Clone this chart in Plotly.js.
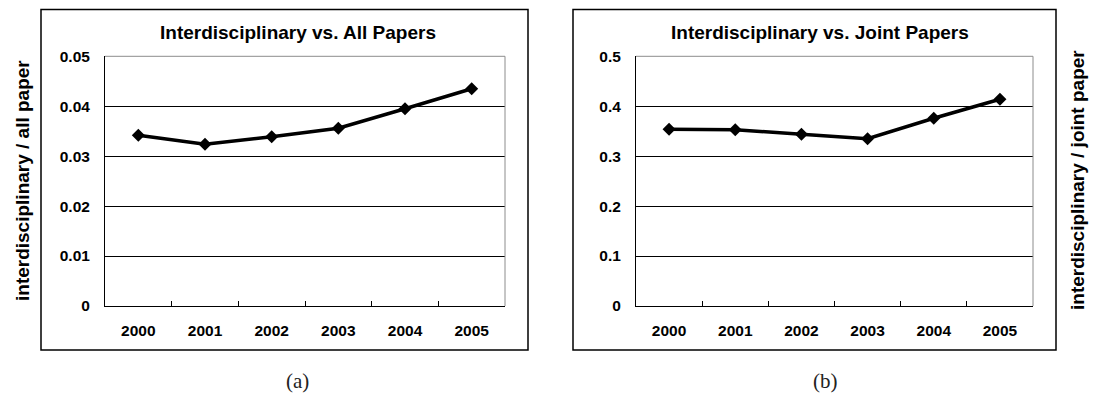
<!DOCTYPE html>
<html>
<head>
<meta charset="utf-8">
<script src="https://cdn.plot.ly/plotly-3.0.1.min.js"></script>
<style>
  html, body { margin: 0; padding: 0; background: #ffffff; }
  #chart { width: 1099px; height: 399px; }
</style>
</head>
<body>
<div id="chart"></div>
<script>
// Yearly share of interdisciplinary papers
const years = ['2000', '2001', '2002', '2003', '2004', '2005'];
const ratioAll = [0.0342, 0.0324, 0.0339, 0.0356, 0.0395, 0.0435];
const ratioJoint = [0.354, 0.353, 0.344, 0.335, 0.376, 0.414];

const titleAll = 'Interdisciplinary vs. All Papers';
const titleJoint = 'Interdisciplinary vs. Joint Papers';
const yTitleAll = 'interdisciplinary / all paper';
const yTitleJoint = 'interdisciplinary / joint paper';
const captions = ['(a)', '(b)'];

const W = 1099, H = 399;
const px = x => x / W;
const py = y => 1 - y / H;

const SANS = 'Liberation Sans, Arial, sans-serif';
const tickFont = { family: SANS, size: 15.5, weight: 'bold', color: '#000' };
const titleFont = { family: SANS, size: 19, weight: 'bold', color: '#000' };

function lineTrace(y, xa, ya) {
  return {
    type: 'scatter', mode: 'lines+markers',
    x: years, y: y, xaxis: xa, yaxis: ya,
    line: { color: '#000', width: 3.5 },
    marker: { symbol: 'diamond', size: 10, color: '#000' },
    hoverinfo: 'x+y', showlegend: false
  };
}

function xAxis(domain, anchor) {
  return {
    domain: domain, anchor: anchor, type: 'category', range: [-0.5, 5.5],
    showline: true, linecolor: '#000', linewidth: 1,
    ticks: 'inside', tickson: 'boundaries', ticklen: 5, tickwidth: 1, tickcolor: '#000',
    showgrid: false, zeroline: false, tickfont: tickFont,
    ticklabelstandoff: 10, fixedrange: true
  };
}

function yAxis(domain, anchor, top, step) {
  return {
    domain: domain, anchor: anchor, range: [0, top], tick0: 0, dtick: step,
    showline: true, linecolor: '#000', linewidth: 1,
    ticks: '', showgrid: true, gridcolor: '#000', gridwidth: 1,
    zeroline: false, tickfont: tickFont, ticklabelstandoff: 11, fixedrange: true
  };
}

// panel frames and the grey top/right edge of each plot area
function frame(x0, x1) {
  return {
    type: 'rect', xref: 'paper', yref: 'paper',
    x0: px(x0), x1: px(x1), y0: py(350), y1: py(9.5),
    line: { color: '#000', width: 1.5 }, layer: 'above'
  };
}
function plotEdges(xa, ya) {
  const ln = { color: '#8c8c8c', width: 1 };
  return [
    { type: 'line', xref: xa + ' domain', yref: ya + ' domain', x0: 0, x1: 1, y0: 1, y1: 1, line: ln, layer: 'above' },
    { type: 'line', xref: xa + ' domain', yref: ya + ' domain', x0: 1, x1: 1, y0: 0, y1: 1, line: ln, layer: 'above' }
  ];
}

function note(text, x, y, font, angle) {
  return {
    text: text, xref: 'paper', yref: 'paper', x: px(x), y: py(y),
    xanchor: 'center', yanchor: 'middle', showarrow: false,
    textangle: angle || 0, font: font
  };
}

const captionFont = { family: 'Liberation Serif, Times New Roman, serif', size: 21, color: '#222' };

const data = [
  lineTrace(ratioAll, 'x', 'y'),
  lineTrace(ratioJoint, 'x2', 'y2')
];

const layout = {
  width: W, height: H, autosize: false,
  margin: { l: 0, r: 0, t: 0, b: 0, pad: 0 },
  paper_bgcolor: '#fff', plot_bgcolor: '#fff',
  xaxis: xAxis([px(105), px(505)], 'y'),
  yaxis: yAxis([py(306), py(56.3)], 'x', 0.05, 0.01),
  xaxis2: xAxis([px(636), px(1033)], 'y2'),
  yaxis2: yAxis([py(306), py(56.3)], 'x2', 0.5, 0.1),
  shapes: [frame(41, 528), frame(573, 1056)]
    .concat(plotEdges('x', 'y'), plotEdges('x2', 'y2')),
  annotations: [
    note(titleAll, 298, 33, titleFont),
    note(titleJoint, 820, 33, titleFont),
    note(yTitleAll, 23, 181, titleFont, -90),
    note(yTitleJoint, 1077, 180, titleFont, -90),
    note(captions[0], 297, 381, captionFont),
    note(captions[1], 825, 381, captionFont)
  ]
};

Plotly.newPlot('chart', data, layout, { displayModeBar: false, staticPlot: true });
</script>
</body>
</html>
